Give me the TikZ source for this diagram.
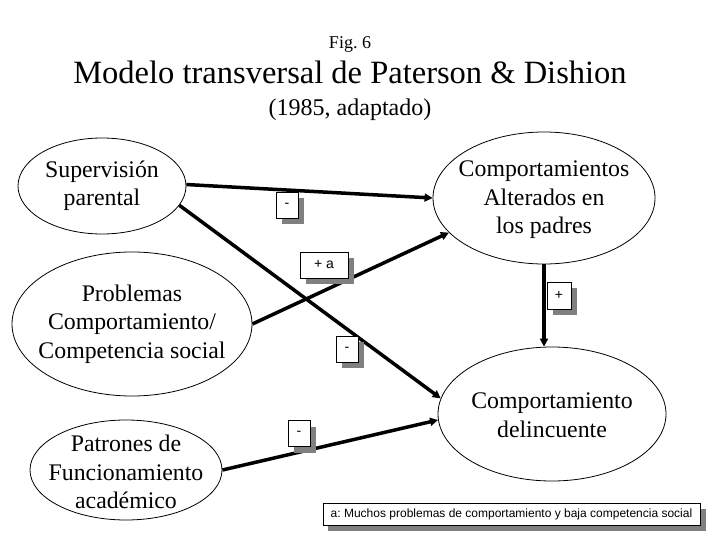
\documentclass[tikz,border=0pt]{standalone}
\usepackage{fontspec}
\setmainfont{Liberation Serif}
\newfontfamily\labfont{Liberation Sans}
\usetikzlibrary{shapes.geometric,arrows.meta,shadows}
\frenchspacing

\begin{document}
\begin{tikzpicture}[x=1pt,y=-1pt,
  oval/.style={ellipse, draw, line width=0.8pt, inner sep=0pt},
  ovtext/.style={align=center, font=\fontsize{23.8}{28.5}\selectfont, inner sep=0pt},
  conn/.style={line width=3.5pt, -{Triangle[length=8pt,width=8pt]}},
  tag/.style={draw, fill=white, line width=0.8pt, font=\labfont\fontsize{14}{16}\selectfont, inner sep=0pt,
    drop shadow={shadow xshift=6pt, shadow yshift=-6pt, fill=gray, opacity=1}},
]
\useasboundingbox (0,0) rectangle (720,540);

% titles
\node[font=\fontsize{18}{20}\selectfont, anchor=base, inner sep=0pt] (fig) at (350,49) {Fig. 6};
\node[font=\fontsize{32.5}{34}\selectfont, anchor=base, inner sep=0pt] (title) at (350,84) {Modelo transversal de Paterson \& Dishion};
\node[font=\fontsize{24}{26}\selectfont, anchor=base, inner sep=0pt] (sub) at (350,116) {(1985, adaptado)};

% ellipses
\node[oval, minimum width=168pt, minimum height=96pt] (sup) at (102,186) {};
\node[ovtext] (suptext) at (sup) {Supervisión\\parental};
\node[oval, minimum width=240pt, minimum height=144pt] (prob) at (132,324) {};
\node[ovtext] (probtext) at (prob) {Problemas\\Comportamiento/\\Competencia social};
\node[oval, minimum width=192pt, minimum height=100pt] (pat) at (126,470) {};
\node[ovtext] (pattext) at (126,472) {Patrones de\\Funcionamiento\\académico};
\node[oval, minimum width=222pt, minimum height=132pt] (alt) at (544,198) {};
\node[ovtext] (alttext) at (544,200) {Comportamientos\\Alterados en\\los padres};
\node[oval, minimum width=228pt, minimum height=134pt] (del) at (552,414) {};
\node[ovtext] (deltext) at (552,415) {Comportamiento\\delincuente};

% connectors
\draw[conn] (sup.1) -- (alt.west);
\draw[conn] (sup.-14) -- (del.172);
\draw[conn] (prob.east) -- (alt.200);
\draw[conn] (pat.east) -- (del.183);
\draw[conn, line width=4.5pt] (alt.south) -- (alt.south |- del.north);

% tags
\node[tag, minimum width=22pt, minimum height=26pt] (t1) at (287,205) {-};
\node[tag, minimum width=48pt, minimum height=26pt] (t2) at (324,265) {+ a};
\node[tag, minimum width=24pt, minimum height=27pt] (t3) at (559,295.5) {+};
\node[tag, minimum width=22pt, minimum height=26pt] (t4) at (347,349) {-};
\node[tag, minimum width=22pt, minimum height=26pt] (t5) at (299,433.5) {-};
\node[tag, minimum width=377pt, minimum height=22pt, font=\labfont\fontsize{12}{14}\selectfont,
  drop shadow={shadow xshift=5pt, shadow yshift=-6pt, fill=gray, opacity=1}] (note) at (511.5,514)
  {a: Muchos problemas de comportamiento y baja competencia social};
\end{tikzpicture}
\end{document}
